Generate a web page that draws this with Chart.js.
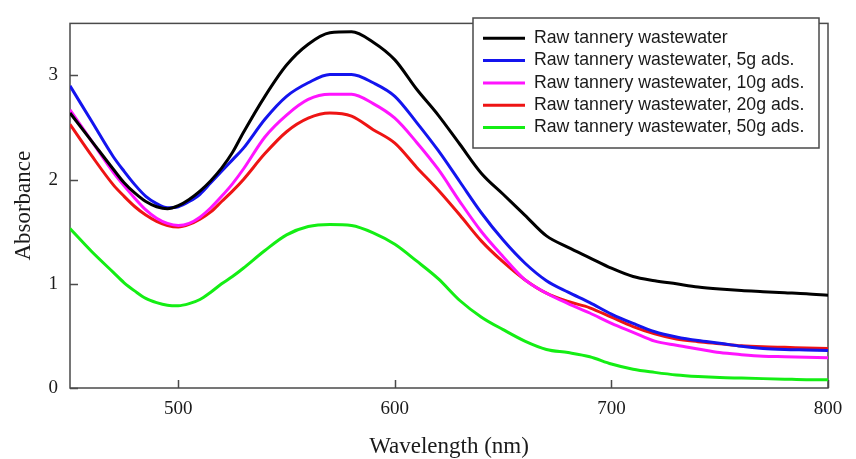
<!DOCTYPE html>
<html>
<head>
<meta charset="utf-8">
<script src="https://cdn.jsdelivr.net/npm/chart.js@4/dist/chart.umd.min.js"></script>
<style>
html,body{margin:0;padding:0;background:#fff;}
canvas{display:block;}
</style>
</head>
<body>
<canvas id="c" width="856" height="459"></canvas>
<script>
const wavelengths = [450,460,470,475,480,485,490,495,500,505,510,515,520,525,530,540,550,560,570,580,590,600,610,620,630,640,650,660,670,680,690,700,710,720,730,740,750,760,770,780,790,800];
const rawWastewater = [2.64,2.37,2.10,1.97,1.87,1.79,1.74,1.72,1.75,1.81,1.89,1.99,2.11,2.26,2.45,2.80,3.10,3.30,3.41,3.42,3.32,3.15,2.87,2.62,2.34,2.06,1.86,1.66,1.46,1.35,1.25,1.15,1.07,1.03,1.00,0.97,0.95,0.935,0.925,0.915,0.905,0.89];
const ads5g = [2.90,2.56,2.22,2.08,1.95,1.84,1.77,1.73,1.74,1.79,1.86,1.97,2.08,2.19,2.30,2.58,2.80,2.93,3.01,3.01,2.93,2.80,2.55,2.28,1.98,1.68,1.42,1.20,1.03,0.92,0.82,0.71,0.62,0.54,0.49,0.455,0.43,0.40,0.38,0.37,0.365,0.36];
const ads10g = [2.67,2.37,2.07,1.94,1.82,1.71,1.63,1.58,1.56,1.58,1.64,1.73,1.84,1.96,2.10,2.41,2.62,2.77,2.82,2.82,2.73,2.59,2.36,2.10,1.79,1.50,1.26,1.04,0.91,0.81,0.72,0.62,0.535,0.45,0.41,0.375,0.34,0.32,0.305,0.30,0.295,0.29];
const ads20g = [2.53,2.23,1.95,1.84,1.74,1.66,1.60,1.56,1.545,1.57,1.62,1.69,1.79,1.89,2.00,2.25,2.46,2.59,2.64,2.61,2.48,2.35,2.12,1.90,1.66,1.41,1.21,1.04,0.91,0.83,0.77,0.68,0.59,0.52,0.47,0.445,0.425,0.405,0.395,0.39,0.385,0.38];
const ads50g = [1.53,1.31,1.11,1.01,0.93,0.86,0.82,0.795,0.79,0.81,0.85,0.92,1.00,1.07,1.15,1.32,1.47,1.55,1.57,1.56,1.49,1.38,1.22,1.05,0.84,0.68,0.56,0.45,0.37,0.34,0.30,0.23,0.18,0.15,0.125,0.11,0.10,0.095,0.09,0.085,0.08,0.08];

const seriesLabels = [
  'Raw tannery wastewater',
  'Raw tannery wastewater, 5g ads.',
  'Raw tannery wastewater, 10g ads.',
  'Raw tannery wastewater, 20g ads.',
  'Raw tannery wastewater, 50g ads.'
];
const seriesColors = ['#000000','#1414ee','#ff14ff','#ee1414','#14ee14'];
const xTickValues = [500,600,700,800];
const yTickValues = [0,1,2,3];
const xTitle = 'Wavelength (nm)';
const yTitle = 'Absorbance';

const allSeries = [rawWastewater, ads5g, ads10g, ads20g, ads50g];
const toPoints = arr => wavelengths.map((w,i) => ({x:w, y:arr[i]}));

const serif = '"Liberation Serif","Times New Roman",serif';
const sans = '"Liberation Sans",Arial,sans-serif';

const bgPlugin = {
  id:'bg',
  beforeDraw(chart){
    const ctx = chart.ctx;
    ctx.save();
    ctx.fillStyle = '#fff';
    ctx.fillRect(0,0,chart.width,chart.height);
    ctx.restore();
  }
};

const frameTicks = {
  id:'frameTicks',
  beforeDatasetsDraw(chart){
    const {ctx, chartArea:a, scales:{x, y}} = chart;
    ctx.save();
    ctx.strokeStyle = '#4a4a4a';
    ctx.lineWidth = 1.5;
    ctx.strokeRect(a.left, a.top, a.right - a.left, a.bottom - a.top);
    ctx.beginPath();
    x.ticks.forEach(t => {
      const px = Math.round(x.getPixelForValue(t.value)) + 0.5;
      ctx.moveTo(px, a.bottom);
      ctx.lineTo(px, a.bottom - 8);
    });
    y.ticks.forEach(t => {
      const py = Math.round(y.getPixelForValue(t.value)) + 0.5;
      ctx.moveTo(a.left, py);
      ctx.lineTo(a.left + 8, py);
    });
    ctx.stroke();
    ctx.restore();
  }
};

const boxLegend = {
  id:'boxLegend',
  afterDatasetsDraw(chart){
    const ctx = chart.ctx;
    const x0 = 473, y0 = 18, x1 = 819, y1 = 148;
    ctx.save();
    ctx.fillStyle = '#fff';
    ctx.fillRect(x0, y0, x1 - x0, y1 - y0);
    ctx.strokeStyle = '#4a4a4a';
    ctx.lineWidth = 1.5;
    ctx.strokeRect(x0, y0, x1 - x0, y1 - y0);
    ctx.font = '17.7px ' + sans;
    ctx.textBaseline = 'middle';
    ctx.textAlign = 'left';
    chart.data.datasets.forEach((ds, i) => {
      const yy = 38.3 + i * 22.3;
      ctx.strokeStyle = ds.borderColor;
      ctx.lineWidth = 3;
      ctx.beginPath();
      ctx.moveTo(483, yy);
      ctx.lineTo(525, yy);
      ctx.stroke();
      ctx.fillStyle = '#1a1a1a';
      ctx.fillText(ds.label, 534, yy);
    });
    ctx.restore();
  }
};

new Chart(document.getElementById('c'), {
  type:'line',
  data:{
    datasets: allSeries.map((arr, i) => ({
      label: seriesLabels[i],
      data: toPoints(arr),
      borderColor: seriesColors[i],
      backgroundColor: seriesColors[i],
      borderWidth: 3,
      pointRadius: 0,
      cubicInterpolationMode: 'monotone',
      fill: false
    }))
  },
  options:{
    responsive:false,
    animation:false,
    devicePixelRatio:1,
    layout:{padding:{top:11, right:28, left:0, bottom:0}},
    plugins:{legend:{display:false}, tooltip:{enabled:false}},
    scales:{
      x:{
        type:'linear', min:450, max:800,
        afterBuildTicks: s => { s.ticks = xTickValues.map(v => ({value:v})); },
        afterFit: s => { s.height = 71; },
        grid:{display:false, drawTicks:false},
        border:{display:false},
        ticks:{padding:10, color:'#1a1a1a', autoSkip:false, maxRotation:0, font:{family:serif, size:19}},
        title:{display:true, text:xTitle, color:'#1a1a1a', font:{family:serif, size:23}, padding:{top:-1.8, bottom:-1.8}}
      },
      y:{
        type:'linear', min:0, max:3.5,
        afterBuildTicks: s => { s.ticks = yTickValues.map(v => ({value:v})); },
        afterFit: s => { s.width = 70; },
        grid:{display:false, drawTicks:false},
        border:{display:false},
        ticks:{padding:12, color:'#1a1a1a', font:{family:serif, size:19}},
        title:{display:true, text:yTitle, color:'#1a1a1a', font:{family:serif, size:23}, padding:{top:10.2, bottom:10.2}}
      }
    }
  },
  plugins:[bgPlugin, frameTicks, boxLegend]
});
</script>
</body>
</html>
